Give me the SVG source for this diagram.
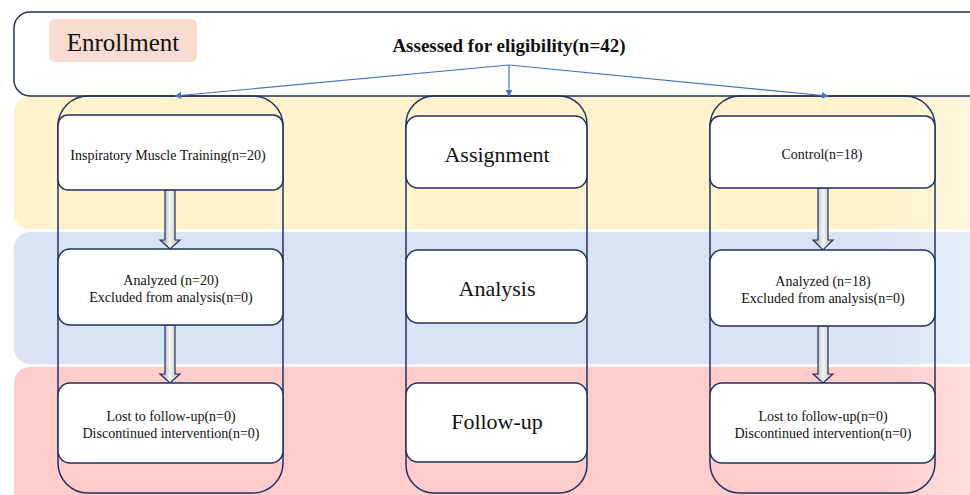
<svg xmlns="http://www.w3.org/2000/svg" width="970" height="495" viewBox="0 0 970 495">
<style>
.box{fill:#fff;stroke:#1f3260;stroke-width:1.5}
.col{fill:none;stroke:#1f3260;stroke-width:1.5}
.t{fill:#111;text-anchor:middle}
.s{font-size:14px}
.l{font-size:22px}
.conn{stroke:#4472c4;stroke-width:1.2;fill:none;marker-end:url(#ah)}
.blk{fill:url(#ag);stroke:#1f3260;stroke-width:1.2}
</style>
<defs>
<marker id="ah" viewBox="0 0 10 10" refX="9" refY="5" markerWidth="7" markerHeight="7" orient="auto" markerUnits="userSpaceOnUse">
<path d="M0,0 L10,5 L0,10 z" fill="#4472c4"/>
</marker>
<linearGradient id="ag" x1="0" y1="0" x2="1" y2="0">
<stop offset="0" stop-color="#9a9a9a"/>
<stop offset="0.5" stop-color="#f4f4f4"/>
<stop offset="1" stop-color="#b0b0b0"/>
</linearGradient>
<linearGradient id="fade" x1="0" y1="0" x2="1" y2="0">
<stop offset="0" stop-color="#ffffff" stop-opacity="0"/>
<stop offset="1" stop-color="#ffffff" stop-opacity="0.35"/>
</linearGradient>
</defs>
<rect width="970" height="495" fill="#fff"/>
<g id="bands">
<rect x="14" y="96" width="980" height="133" rx="16" fill="#fff2cc"/>
<rect x="14" y="232" width="980" height="132" rx="16" fill="#dae3f3"/>
<rect x="14" y="367" width="980" height="150" rx="16" fill="#ffcccc"/>
<rect x="880" y="96" width="90" height="399" fill="url(#fade)"/>
</g>
<g font-family="Liberation Serif, DejaVu Serif, serif">
<g id="header">
<rect x="14" y="12" width="980" height="84" rx="16" fill="#fff" stroke="#1f3260" stroke-width="1.5"/>
<rect x="49" y="19" width="148" height="43" rx="6" fill="#f8dccf"/>
<text class="t" x="123" y="51" font-size="25">Enrollment</text>
<text class="t" x="509" y="52" font-size="19" font-weight="bold">Assessed for eligibility(n=42)</text>
</g>
<g id="columns">
<rect class="col" x="58" y="96" width="225" height="397" rx="30"/>
<rect class="col" x="406" y="96" width="181" height="397" rx="28"/>
<rect class="col" x="710" y="96" width="225" height="397" rx="30"/>
</g>
<g id="connectors">
<polyline class="conn" points="509,65 175,96"/>
<polyline class="conn" points="509,65 509,96"/>
<polyline class="conn" points="509,65 828,96"/>
<path class="blk" d="M165,190 L175,190 L175,240 L180,240 L170,249 L160,240 L165,240 Z"/>
<path class="blk" d="M165,325 L175,325 L175,374 L180,374 L170,383 L160,374 L165,374 Z"/>
<path class="blk" d="M818,188 L828,188 L828,240 L833,240 L823,250 L813,240 L818,240 Z"/>
<path class="blk" d="M818,326 L828,326 L828,374 L833,374 L823,383 L813,374 L818,374 Z"/>
</g>
<g id="imt">
<rect class="box" x="58" y="115" width="225" height="75" rx="10"/>
<text class="t s" x="168" y="160">Inspiratory Muscle Training(n=20)</text>
</g>
<g id="imt-analyzed">
<rect class="box" x="58" y="249" width="225" height="76" rx="12"/>
<text class="t s" x="171" y="285">Analyzed (n=20)</text>
<text class="t s" x="171" y="302">Excluded from analysis(n=0)</text>
</g>
<g id="imt-followup">
<rect class="box" x="58" y="383" width="225" height="80" rx="12"/>
<text class="t s" x="171" y="421">Lost to follow-up(n=0)</text>
<text class="t s" x="171" y="438">Discontinued intervention(n=0)</text>
</g>
<g id="assignment">
<rect class="box" x="406" y="116" width="181" height="72" rx="12"/>
<text class="t l" x="497" y="162">Assignment</text>
</g>
<g id="analysis">
<rect class="box" x="406" y="250" width="181" height="73" rx="12"/>
<text class="t l" x="497" y="296">Analysis</text>
</g>
<g id="followup">
<rect class="box" x="406" y="383" width="181" height="79" rx="12"/>
<text class="t l" x="497" y="429">Follow-up</text>
</g>
<g id="control">
<rect class="box" x="710" y="116" width="225" height="72" rx="10"/>
<text class="t s" x="822" y="159">Control(n=18)</text>
</g>
<g id="control-analyzed">
<rect class="box" x="710" y="250" width="225" height="76" rx="12"/>
<text class="t s" x="823" y="286">Analyzed (n=18)</text>
<text class="t s" x="823" y="303">Excluded from analysis(n=0)</text>
</g>
<g id="control-followup">
<rect class="box" x="710" y="383" width="225" height="80" rx="12"/>
<text class="t s" x="823" y="421">Lost to follow-up(n=0)</text>
<text class="t s" x="823" y="438">Discontinued intervention(n=0)</text>
</g>
</g>
</svg>
